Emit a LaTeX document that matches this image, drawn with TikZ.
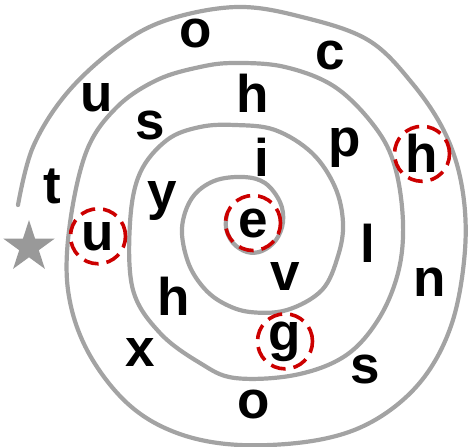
\documentclass[tikz,border=0pt]{standalone}
\usepackage{fontspec}
\setmainfont{Liberation Sans}
\usepackage{tikz}
\usetikzlibrary{shapes.geometric}
\definecolor{track}{RGB}{163,163,163}
\definecolor{mark}{RGB}{204,0,0}
\definecolor{pin}{RGB}{153,153,153}

\begin{document}
\begin{tikzpicture}[x=1pt,y=-1pt,
  font=\fontsize{53}{60}\selectfont\bfseries,
  letter/.style={anchor=base,inner sep=0pt},
  ringed/.style={letter,circle,draw=mark,line width=3.6pt,minimum size=55pt,
    dash pattern=on 15pt off 8pt}]
 \useasboundingbox (0,0) rectangle (470,446);
 % spiral track, outside in
 \draw[track,line width=4.2pt,line cap=round] plot[smooth,tension=0.6] coordinates {
  (18,205) (33,147) (67,93) (117,47) (167,20) (237,7) (302,17) (368,40)
  (412,83) (445,133) (462,187) (465,250) (452,323) (422,380) (375,420)
  (318,440) (240,445) (177,433) (127,403) (87,350) (68,290) (70,223)
  (87,150) (117,107) (157,80) (200,67) (235,63) (285,67) (335,87)
  (375,127) (395,167) (403,223) (398,273) (378,320) (345,356) (295,375)
  (235,378) (200,363) (160,333) (133,290) (130,223) (140,173) (167,140)
  (200,127) (235,125) (275,130) (312,153) (335,187) (343,223) (338,256)
  (322,290) (287,310) (250,312) (223,303) (203,287) (188,262) (182,228)
  (192,198) (214,181) (243,177) (265,183) (280,202) (283,222) (276,240)
  (262,251) (247,252) (233,243) (226,228) (227,214)};
 % start mark
 \node[star,star points=5,star point ratio=2.618,fill=pin,inner sep=0pt,
   minimum size=54pt] (start) at (29,247) {};
 % letters, outer loop
 \node[letter] (o1) at (196,48) {o};
 \node[letter] (c1) at (330,70) {c};
 \node[ringed] (h1) at (422,173) {h};
 \node[letter] (n1) at (430,296) {n};
 \node[letter] (s1) at (365,383) {s};
 \node[letter] (o2) at (254,418) {o};
 \node[letter] (x1) at (140,366) {x};
 \node[letter] (t1) at (52,203) {t};
 \node[letter] (u1) at (97,112) {u};
 % second loop
 \node[letter] (h2) at (253,113) {h};
 \node[letter] (p1) at (345,157) {p};
 \node[letter] (l1) at (368,262) {l};
 \node[ringed] (g1) at (285,350) {g};
 \node[letter] (h3) at (174,315) {h};
 \node[ringed] (u2) at (98,250) {u};
 \node[letter] (s2) at (150,140) {s};
 % inner loops
 \node[letter] (i1) at (262,176) {i};
 \node[letter] (v1) at (285,290) {v};
 \node[letter] (y1) at (162,209) {y};
 \node[ringed] (e1) at (253,237) {e};
\end{tikzpicture}
\end{document}
